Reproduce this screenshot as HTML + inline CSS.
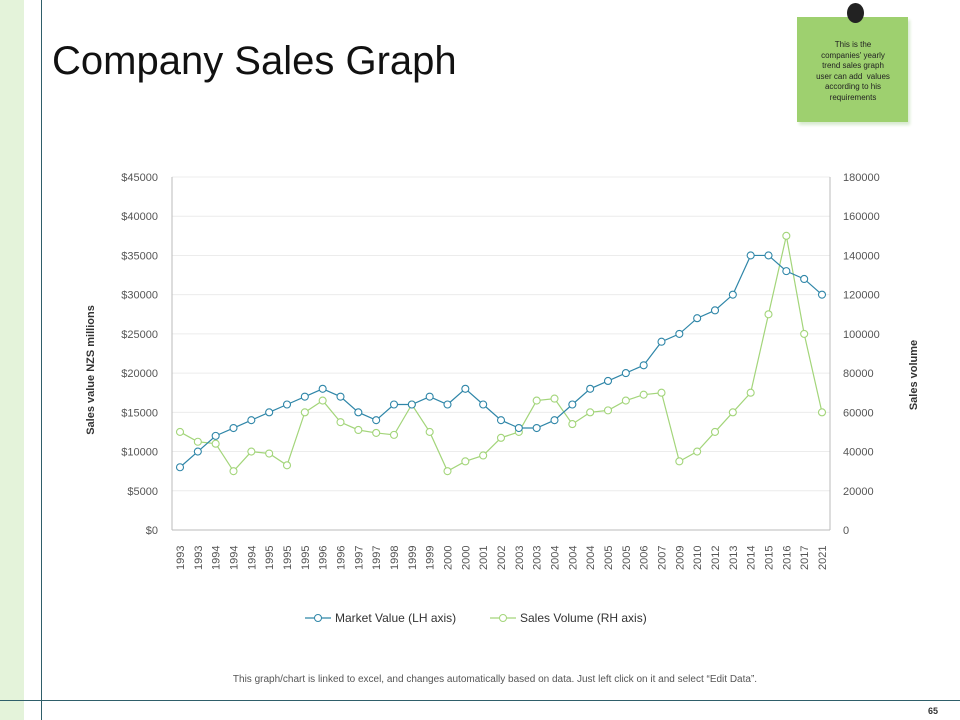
<!DOCTYPE html>
<html><head><meta charset="utf-8"><style>
body{margin:0;width:960px;height:720px;position:relative;background:#fff;font-family:"Liberation Sans",sans-serif;overflow:hidden}
.abs{position:absolute}
</style></head><body>
<div class="abs" style="left:0;top:0;width:24px;height:720px;background:#e4f3da"></div>
<div class="abs" style="left:41px;top:0;width:1px;height:720px;background:#2f5f6a"></div>
<div class="abs" style="left:0;top:700px;width:960px;height:1px;background:#2f5f6a"></div>
<div class="abs" style="left:52px;top:39px;font-size:40px;color:#111">Company Sales Graph</div>
<div class="abs" style="left:797px;top:17px;width:111px;height:105px;background:#9ed06f;box-shadow:2px 3px 3px #d8ead0"></div>
<div class="abs" style="left:847px;top:3px;width:17px;height:20px;border-radius:50%;background:#222"></div>
<div class="abs" style="left:815px;top:40px;width:76px;text-align:center;font-size:8px;line-height:10.5px;color:#222">This is the companies' yearly trend sales graph user can add&nbsp; values according to his requirements</div>
<div class="abs" style="left:0;top:674px;width:990px;text-align:center;font-size:10px;color:#555">This graph/chart is linked to excel, and changes automatically based on data. Just left click on it and select “Edit Data”.</div>
<div class="abs" style="left:928px;top:706px;font-size:9px;font-weight:bold;color:#333">65</div>
<svg class="abs" style="left:0;top:0" width="960" height="720" id="chart"></svg>
<script>
const categories=["1993","1993","1994","1994","1994","1995","1995","1995","1996","1996","1997","1997","1998","1999","1999","2000","2000","2001","2002","2003","2003","2004","2004","2004","2005","2005","2006","2007","2009","2010","2012","2013","2014","2015","2016","2017","2021"];
const marketValue=[8000,10000,12000,13000,14000,15000,16000,17000,18000,17000,15000,14000,16000,16000,17000,16000,18000,16000,14000,13000,13000,14000,16000,18000,19000,20000,21000,24000,25000,27000,28000,30000,35000,35000,33000,32000,30000];
const salesVolume=[50000,45000,44000,30000,40000,39000,33000,60000,66000,55000,51000,49500,48500,64000,50000,30000,35000,38000,47000,50000,66000,67000,54000,60000,61000,66000,69000,70000,35000,40000,50000,60000,70000,110000,150000,100000,60000];
const leftTicks=[0,5000,10000,15000,20000,25000,30000,35000,40000,45000];
const rightTicks=[0,20000,40000,60000,80000,100000,120000,140000,160000,180000];
const svg=document.getElementById('chart');const NS='http://www.w3.org/2000/svg';
const X0=172,X1=830,Y0=530,Y1=177;
const xs=i=>X0+8+i*(X1-X0-16)/(categories.length-1);
const yl=v=>Y0-v/45000*(Y0-Y1);
const yr=v=>Y0-v/180000*(Y0-Y1);
function mk(t,a){const e=document.createElementNS(NS,t);for(const k in a)e.setAttribute(k,a[k]);svg.appendChild(e);return e;}
leftTicks.forEach((v,i)=>{
 const g=mk('line',{x1:X0,x2:X1,y1:yl(v),y2:yl(v),stroke:i==0?'#bbb':'#ececec'});
 
 
 const t=mk('text',{x:158,y:yl(v)+4,'text-anchor':'end','font-size':'11',fill:'#555'});t.textContent='$'+v;
 
 
});
rightTicks.forEach(v=>{
 const t=mk('text',{x:843,y:yr(v)+4,'font-size':'11',fill:'#555'});t.textContent=v;
 
 
});
const ax=mk('line',{x1:X0,x2:X0,y1:Y1,y2:Y0,stroke:'#bbb'});
const ax2=mk('line',{x1:X1,x2:X1,y1:Y1,y2:Y0,stroke:'#bbb'});
categories.forEach((c,i)=>{
 const t=mk('text',{transform:`translate(${xs(i)+4},570) rotate(-90)`,'font-size':'11',fill:'#555'});t.textContent=c;
 
 
});
function series(vals,fy,col,name){
 const p=mk('polyline',{points:vals.map((v,i)=>xs(i)+','+fy(v)).join(' '),fill:'none',stroke:col,'stroke-width':1.2});
 
 
 vals.forEach((v,i)=>{const c=mk('circle',{cx:xs(i),cy:fy(v),r:3.5,fill:'#fff',stroke:col,'stroke-width':1.1});
 
 });
}
series(salesVolume,yr,'#a3d57a','sales-volume');
series(marketValue,yl,'#2f86a8','market-value');
const lt=mk('text',{transform:'translate(94,370) rotate(-90)','text-anchor':'middle','font-size':'11','font-weight':'bold',fill:'#333'});lt.textContent='Sales value NZS millions';

const rt=mk('text',{transform:'translate(917,375) rotate(-90)','text-anchor':'middle','font-size':'11','font-weight':'bold',fill:'#333'});rt.textContent='Sales volume';

[[305,'#2f86a8','Market Value (LH axis)','legend-market-value'],[490,'#a3d57a','Sales Volume (RH axis)','legend-sales-volume']].forEach(([x,c,l,n])=>{
 const ln=mk('line',{x1:x,x2:x+26,y1:618,y2:618,stroke:c,'stroke-width':1.2});
 const ci=mk('circle',{cx:x+13,cy:618,r:3.5,fill:'#fff',stroke:c});
 const t=mk('text',{x:x+30,y:622,'font-size':'12',fill:'#333'});t.textContent=l;
 
});
</script>
</body></html>
